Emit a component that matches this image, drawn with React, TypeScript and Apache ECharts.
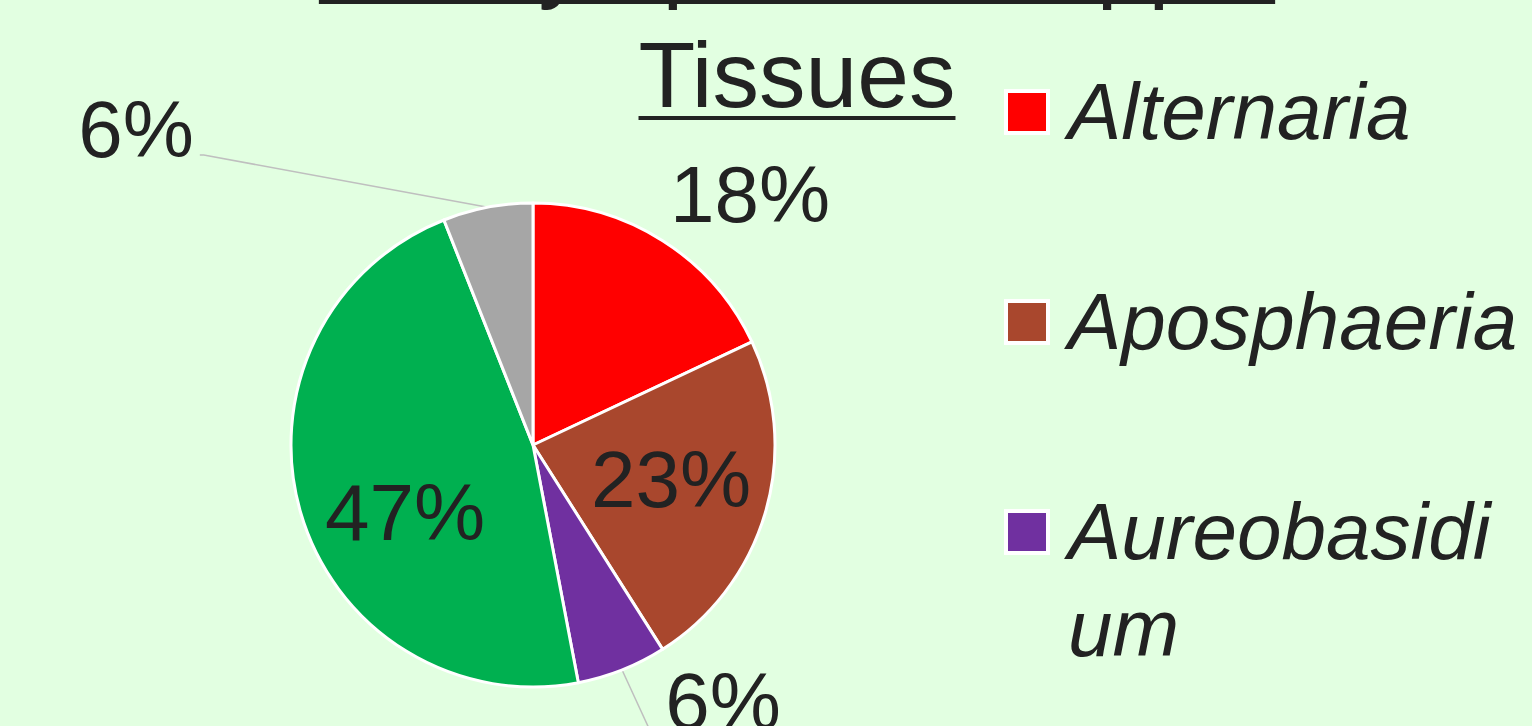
import React, { useEffect, useRef } from 'react';
import * as echarts from 'echarts';

// ---- data ----
const titleLines = ['the Symptomatic Apple', 'Tissues'];
const genera = ['Alternaria', 'Aposphaeria', 'Aureobasidium', 'Botryosphaeria', 'Others'];
const shares = [18, 23, 6, 47, 6];
const sliceColors = ['#FF0000', '#A9472D', '#7030A0', '#00B050', '#A6A6A6'];

// ---- layout ----
const W = 1532;
const H = 726;
const BG = '#E2FFE1';
const INK = '#222222';
const CX = 533;
const CY = 445;
const R = 242;
const FONT = '"Liberation Sans", Arial, sans-serif';
const LEGEND_W = 458;
// label centres [x, y, leader side: 0 none, 1 line ends right of label, -1 line ends left of label]
const labelSpots: [number, number, number][] = [
  [750, 194, 0],
  [671, 479, 0],
  [723, 701, -1],
  [405, 512, 0],
  [136, 129, 1],
];

function measure(text: string, font: string): number {
  const c = document.createElement('canvas').getContext('2d');
  if (!c) return text.length * 40;
  c.font = font;
  return c.measureText(text).width;
}

export default function App() {
  const ref = useRef<HTMLDivElement>(null);
  useEffect(() => {
    if (!ref.current) return;
    const chart = echarts.init(ref.current, undefined, { renderer: 'svg', width: W, height: H });

    const titleFont = `93px ${FONT}`;
    const titleCX = 797;
    const titleMids = [-41, 75];
    const graphics: any[] = [];
    titleLines.forEach((t, i) => {
      const w = measure(t, titleFont);
      graphics.push({
        type: 'text',
        x: titleCX,
        y: titleMids[i],
        style: { text: t, fontSize: 93, fontFamily: FONT, fill: INK, align: 'center', verticalAlign: 'middle' },
      });
      graphics.push({
        type: 'rect',
        shape: { x: titleCX - w / 2, y: titleMids[i] + 41, width: w, height: 4 },
        style: { fill: INK },
      });
    });

    let yc = 112;
    genera.forEach((g, i) => {
      if (yc > H) return;
      graphics.push({
        type: 'rect',
        shape: { x: 1006, y: yc - 21, width: 42, height: 42 },
        style: { fill: sliceColors[i], stroke: '#ffffff', lineWidth: 4 },
      });
      graphics.push({
        type: 'text',
        x: 1068,
        y: yc - 49.5,
        style: {
          text: g,
          fontSize: 80,
          fontStyle: 'italic',
          fontFamily: FONT,
          fill: INK,
          width: LEGEND_W,
          overflow: 'breakAll',
          lineHeight: 97,
          align: 'left',
          verticalAlign: 'top',
        },
      });
      const lines = measure(g, `italic 80px ${FONT}`) > LEGEND_W ? 2 : 1;
      yc += 210 + (lines - 1) * 97;
    });

    // cumulative mid angles for fallback anchors
    const total = shares.reduce((a, b) => a + b, 0);
    const mids: number[] = [];
    let acc = 0;
    shares.forEach((v) => {
      mids.push(((acc + v / 2) / total) * Math.PI * 2);
      acc += v;
    });

    chart.setOption({
      animation: false,
      backgroundColor: BG,
      graphic: graphics,
      series: [
        {
          type: 'pie',
          center: [CX, CY],
          radius: R,
          startAngle: 90,
          clockwise: true,
          avoidLabelOverlap: false,
          itemStyle: { borderColor: '#ffffff', borderWidth: 3 },
          label: {
            show: true,
            position: 'outside',
            formatter: '{d}%',
            fontSize: 80,
            fontFamily: FONT,
            color: INK,
          },
          labelLine: {
            show: true,
            length: 20,
            length2: 10,
            lineStyle: { color: '#BFBFBF', width: 1.5 },
          },
          labelLayout: (p: any) => {
            const s = labelSpots[p.dataIndex];
            const out: any = { x: s[0], y: s[1], align: 'center', verticalAlign: 'middle' };
            if (s[2] !== 0) {
              const w = p.labelRect ? p.labelRect.width : 110;
              const a = mids[p.dataIndex];
              const anchor =
                p.labelLinePoints && p.labelLinePoints[0]
                  ? p.labelLinePoints[0]
                  : [CX + R * Math.sin(a), CY - R * Math.cos(a)];
              const ey = s[1] + (s[2] > 0 ? 26 : 30);
              const bend = s[0] + s[2] * (w / 2 + (s[2] > 0 ? 10 : 15));
              const end = s[0] + s[2] * (w / 2 + (s[2] > 0 ? 6 : 8));
              out.labelLinePoints = [anchor, [bend, ey], [end, ey]];
            }
            return out;
          },
          data: genera.map((g, i) => ({
            name: g,
            value: shares[i],
            itemStyle: { color: sliceColors[i] },
            labelLine: { show: labelSpots[i][2] !== 0 },
          })),
        },
      ],
    });
    return () => chart.dispose();
  }, []);
  return (
    <div
      ref={ref}
      style={{ position: 'fixed', left: 0, top: 0, width: W, height: H, background: BG }}
    />
  );
}
